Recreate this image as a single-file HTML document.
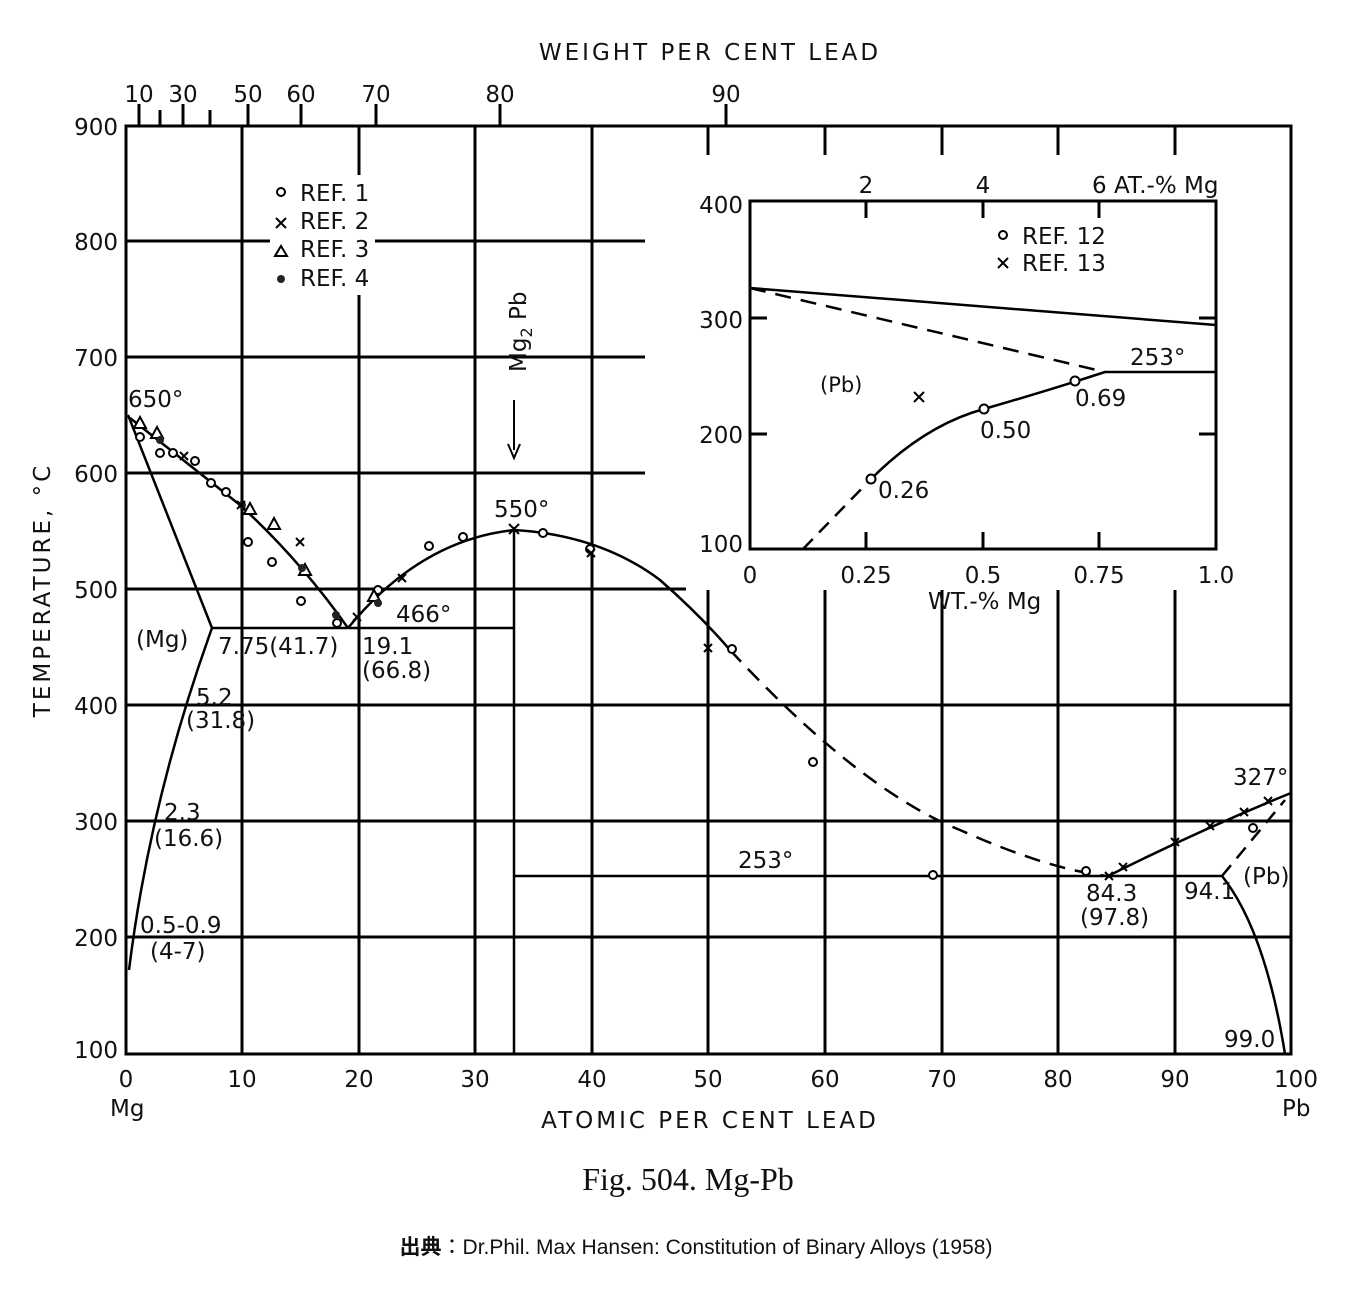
<!DOCTYPE html><html><head><style>body{margin:0;background:#fff}svg{display:block}
text{font-family:"DejaVu Sans","Liberation Sans",sans-serif;fill:#111}</style></head><body>
<svg width="1362" height="1300" viewBox="0 0 1362 1300">
<g stroke="#000" stroke-width="3" fill="none">
<rect x="126" y="126" width="1165" height="928"/>
<path d="M126 241H270M375 241H645"/>
<path d="M126 357H645"/>
<path d="M126 473H645"/>
<path d="M126 589H686"/>
<path d="M126 705H1291M126 821H1291M126 937H1291"/>
<path d="M242 126V1054M359 126V175M359 295V1054M475 126V1054M592 126V1054"/>
<path d="M708 126V155M708 590V1054M825 590V1054M942 590V1054M1058 590V1054M1175 126V155M1175 590V1054M825 126V155M942 126V155M1058 126V155"/>
<path d="M139 104V126M160 110V126M183 104V126M210 110V126M248 104V126M301 104V126M376 104V126M500 104V126M726 104V126"/>
<rect x="750" y="201" width="466" height="348"/>
<path d="M866 201V218M983 201V218M1099 201V218M866 549V532M983 549V532M1099 549V532M750 318H767M750 434H767M1216 318H1199M1216 434H1199"/>
</g>
<g stroke="#000" stroke-width="2.5" fill="none">
<path d="M750 288L1216 325"/>
<path d="M750 288L1105 372" stroke-dasharray="16 10"/>
<path d="M1105 372H1216"/>
<path d="M803 549L871 479" stroke-dasharray="14 9"/>
<path d="M871 479Q925 425 984 409Q1050 390 1105 372"/>
<path d="M128 415L212 628"/>
<path d="M212 628Q150 800 129 970"/>
<path d="M130 418L240 505Q300 560 348 628"/>
<path d="M212 628H514M514 527V1054M514 876H1222"/>
<path d="M348 628Q420 540 514 530Q600 535 660 580Q700 615 730 650"/>
<path d="M730 650Q860 790 960 830Q1050 870 1108 876" stroke-dasharray="16 10"/>
<path d="M1108 876Q1200 830 1291 793"/>
<path d="M1222 876L1285 800" stroke-dasharray="14 9"/>
<path d="M1222 876Q1265 930 1285 1054"/>
<path d="M514 400V450" stroke-width="2"/>
<path d="M508 444L514 458L520 444" stroke-width="2"/>
</g>
<g stroke="#000" stroke-width="2" fill="#fff">
<circle cx="871" cy="479" r="4.5"/><circle cx="984" cy="409" r="4.5"/><circle cx="1075" cy="381" r="4.5"/>
<circle cx="140" cy="437" r="4"/><circle cx="160" cy="453" r="4"/><circle cx="173" cy="453" r="4"/><circle cx="195" cy="461" r="4"/><circle cx="211" cy="483" r="4"/><circle cx="226" cy="492" r="4"/><circle cx="248" cy="542" r="4"/><circle cx="272" cy="562" r="4"/><circle cx="301" cy="601" r="4"/><circle cx="337" cy="623" r="4"/><circle cx="378" cy="590" r="4"/><circle cx="429" cy="546" r="4"/><circle cx="463" cy="537" r="4"/><circle cx="543" cy="533" r="4"/><circle cx="590" cy="549" r="4"/><circle cx="732" cy="649" r="4"/><circle cx="813" cy="762" r="4"/><circle cx="933" cy="875" r="4"/><circle cx="1086" cy="871" r="4"/><circle cx="1253" cy="828" r="4"/>
<path d="M140 417l-6 11h12zM157 427l-6 11h12zM250 503l-6 11h12zM274 518l-6 11h12zM305 564l-6 11h12zM374 590l-6 11h12z"/>
</g>
<g fill="#222"><circle cx="160" cy="440" r="4"/><circle cx="242" cy="505" r="4"/><circle cx="302" cy="568" r="4"/><circle cx="336" cy="615" r="4"/><circle cx="378" cy="603" r="4"/><circle cx="281" cy="279" r="4"/></g>
<g stroke="#000" stroke-width="2">
<path d="M914 392l10 10M924 392l-10 10M998 258l10 10M1008 258l-10 10M276 218l10 10M286 218l-10 10"/>
<path d="M180 452l8 8M188 452l-8 8M296 538l8 8M304 538l-8 8M353 613l8 8M361 613l-8 8M398 574l8 8M406 574l-8 8M509 524l10 10M519 524l-10 10M587 549l8 8M595 549l-8 8M704 644l8 8M712 644l-8 8M1105 872l8 8M1113 872l-8 8M1119 863l8 8M1127 863l-8 8M1171 838l8 8M1179 838l-8 8M1206 822l8 8M1214 822l-8 8M1240 808l8 8M1248 808l-8 8M1264 797l8 8M1272 797l-8 8M237 501l8 8M245 501l-8 8"/>
</g>
<circle cx="281" cy="192" r="4" fill="none" stroke="#000" stroke-width="2"/>
<circle cx="1003" cy="235" r="4" fill="none" stroke="#000" stroke-width="2"/>
<path d="M275 256l6-10 6 10z" fill="none" stroke="#000" stroke-width="2"/>
<g font-size="23">
<text x="710" y="60" text-anchor="middle" letter-spacing="3">WEIGHT PER CENT LEAD</text>
<text x="139" y="102" text-anchor="middle">10</text><text x="183" y="102" text-anchor="middle">30</text><text x="248" y="102" text-anchor="middle">50</text><text x="301" y="102" text-anchor="middle">60</text><text x="376" y="102" text-anchor="middle">70</text><text x="500" y="102" text-anchor="middle">80</text><text x="726" y="102" text-anchor="middle">90</text>
<g text-anchor="end"><text x="118" y="135">900</text><text x="118" y="250">800</text><text x="118" y="366">700</text><text x="118" y="482">600</text><text x="118" y="598">500</text><text x="118" y="714">400</text><text x="118" y="830">300</text><text x="118" y="946">200</text><text x="118" y="1058">100</text></g>
<g text-anchor="middle"><text x="126" y="1087">0</text><text x="242" y="1087">10</text><text x="359" y="1087">20</text><text x="475" y="1087">30</text><text x="592" y="1087">40</text><text x="708" y="1087">50</text><text x="825" y="1087">60</text><text x="942" y="1087">70</text><text x="1058" y="1087">80</text><text x="1175" y="1087">90</text><text x="1296" y="1087">100</text></g>
<text x="110" y="1116">Mg</text><text x="1282" y="1116">Pb</text>
<text x="710" y="1128" text-anchor="middle" letter-spacing="3">ATOMIC PER CENT LEAD</text>
<text transform="translate(50,590) rotate(-90)" text-anchor="middle" letter-spacing="3">TEMPERATURE, °C</text>
<text x="300" y="201">REF. 1</text><text x="300" y="229">REF. 2</text><text x="300" y="257">REF. 3</text><text x="300" y="286">REF. 4</text>
<text transform="translate(526,372) rotate(-90)">Mg<tspan font-size="16" dy="6">2</tspan><tspan dy="-6"> Pb</tspan></text>
<text x="128" y="407">650°</text><text x="494" y="517">550°</text><text x="396" y="622">466°</text>
<text x="136" y="647">(Mg)</text><text x="218" y="654">7.75(41.7)</text><text x="362" y="654">19.1</text><text x="362" y="678">(66.8)</text>
<text x="196" y="705">5.2</text><text x="186" y="728">(31.8)</text><text x="164" y="820">2.3</text><text x="154" y="846">(16.6)</text>
<text x="140" y="933">0.5-0.9</text><text x="150" y="959">(4-7)</text>
<text x="738" y="868">253°</text><text x="1086" y="901">84.3</text><text x="1080" y="925">(97.8)</text><text x="1184" y="899">94.1</text><text x="1243" y="884">(Pb)</text><text x="1233" y="785">327°</text><text x="1224" y="1047">99.0</text>
<g text-anchor="middle"><text x="750" y="583">0</text><text x="866" y="583">0.25</text><text x="983" y="583">0.5</text><text x="1099" y="583">0.75</text><text x="1216" y="583">1.0</text>
<text x="866" y="193">2</text><text x="983" y="193">4</text></g>
<text x="1092" y="193">6 AT.-% Mg</text><text x="928" y="609">WT.-% Mg</text>
<g text-anchor="end"><text x="743" y="213">400</text><text x="743" y="328">300</text><text x="743" y="443">200</text><text x="743" y="552">100</text></g>
<text x="1022" y="244">REF. 12</text><text x="1022" y="271">REF. 13</text>
<text x="1130" y="365">253°</text><text x="1075" y="406">0.69</text><text x="980" y="438">0.50</text><text x="878" y="498">0.26</text><text x="820" y="392" font-size="21">(Pb)</text>
</g>
<text x="688" y="1190" text-anchor="middle" font-size="32" style="font-family:'Liberation Serif',serif">Fig. 504. Mg-Pb</text>
<text x="696" y="1254" text-anchor="middle" font-size="21" style="font-family:'Liberation Sans','Noto Sans CJK JP',sans-serif"><tspan font-weight="bold">出典</tspan>：Dr.Phil. Max Hansen: Constitution of Binary Alloys (1958)</text>
</svg></body></html>
